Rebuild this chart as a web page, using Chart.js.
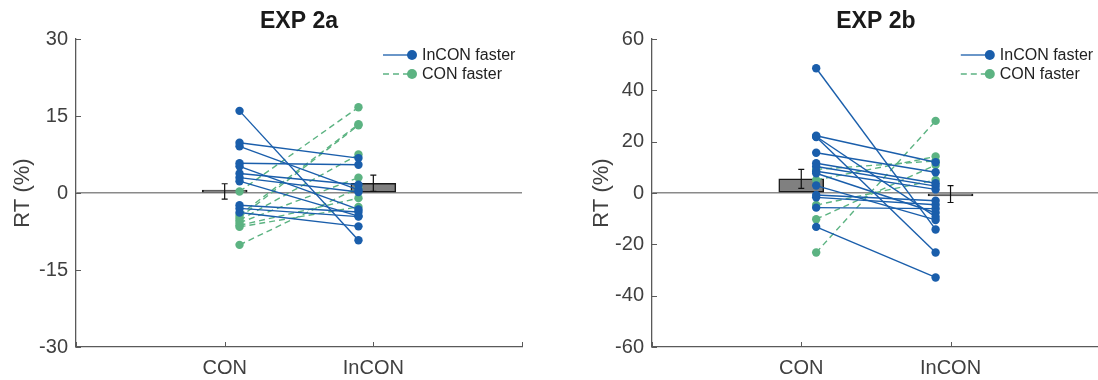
<!DOCTYPE html>
<html>
<head>
<meta charset="utf-8">
<script src="https://cdn.jsdelivr.net/npm/chart.js@4/dist/chart.umd.min.js"></script>
<style>
  body { margin: 0; background: #fff; overflow: hidden; }
  #wrap { position: relative; width: 1098px; height: 380px; overflow: hidden; }
  canvas { position: absolute; top: 0; }
</style>
</head>
<body>
<div id="wrap">
  <canvas id="exp2a" width="560" height="380" style="left:0"></canvas>
  <canvas id="exp2b" width="544" height="380" style="left:560px"></canvas>
</div>
<script>
// categories and tick labels
const categories = ['CON', 'InCON'];
const xTickLabels = ['', 'CON', 'InCON', ''];
const legendLabels = ['InCON faster', 'CON faster'];

// EXP 2a - per subject RT (%)
const a_blueCon   = [16.0, 9.8, 9.1, 5.8, 5.2, 3.8, 3.0, 2.3, -2.4, -3.0, -3.8];
const a_blueIncon = [-9.2, 6.8, 0.6, 5.5, -3.2, 1.6, 0.2, -4.5, -3.7, -4.6, -6.5];
const a_greenCon   = [0.3, -4.3, -4.8, -5.3, -5.8, -6.3, -6.6, -10.1];
const a_greenIncon = [16.7, 13.4, 13.2, 7.5, 3.0, -1.0, -2.7, 1.0];
const a_means = [0.3, 1.9];
const a_sem   = [1.5, 1.6];
const a_yTicks = [-30, -15, 0, 15, 30];

// EXP 2b
const b_blueCon   = [48.6, 22.3, 22.0, 21.8, 15.7, 11.6, 10.3, 8.5, 7.7, 2.9, -0.8, -1.7, -5.7, -13.2];
const b_blueIncon = [-14.2, 12.0, -9.3, -23.2, 8.1, 3.8, 2.7, 1.4, -7.7, -10.5, -3.0, -4.6, -6.1, -32.9];
const b_greenCon   = [-23.2, -10.2, -4.7, 5.1, 9.2];
const b_greenIncon = [28.1, 10.9, 5.1, 14.2, 12.5];
const b_means = [5.5, -0.4];
const b_sem   = [3.7, 3.3];
const b_yTicks = [-60, -40, -20, 0, 20, 40, 60];

const BLUE = '#1a5eab';
const GREEN = '#5cb382';
const FONT = "'Liberation Sans', Arial, Helvetica, sans-serif";
const SHIFT = 0.1; // points sit a little inside the bar positions

// extra drawing: title, inward ticks, error bars, legend
const extras = {
  id: 'extras',
  afterDatasetsDraw(chart) {
    const { ctx, chartArea, scales } = chart;
    const o = chart.options.plugins.extras;
    const x = scales.x, y = scales.y;
    ctx.save();

    // inward ticks
    ctx.strokeStyle = '#5a5a5a';
    ctx.lineWidth = 1;
    y.ticks.forEach(t => {
      const py = Math.round(y.getPixelForValue(t.value)) + 0.5;
      ctx.beginPath(); ctx.moveTo(chartArea.left, py); ctx.lineTo(chartArea.left + 5, py); ctx.stroke();
    });
    x.ticks.forEach(t => {
      const px = Math.round(x.getPixelForValue(t.value)) + 0.5;
      ctx.beginPath(); ctx.moveTo(px, chartArea.bottom); ctx.lineTo(px, chartArea.bottom - 5); ctx.stroke();
    });

    // error bars
    ctx.strokeStyle = '#111';
    ctx.lineWidth = 1.2;
    o.means.forEach((m, i) => {
      const px = x.getPixelForValue(i + 1);
      const y1 = y.getPixelForValue(m - o.sem[i]);
      const y2 = y.getPixelForValue(m + o.sem[i]);
      ctx.beginPath();
      ctx.moveTo(px, y1); ctx.lineTo(px, y2);
      ctx.moveTo(px - 3, y1); ctx.lineTo(px + 3, y1);
      ctx.moveTo(px - 3, y2); ctx.lineTo(px + 3, y2);
      ctx.stroke();
    });

    // title
    ctx.fillStyle = '#1a1a1a';
    ctx.font = 'bold 23px ' + FONT;
    ctx.textAlign = 'center';
    ctx.textBaseline = 'alphabetic';
    ctx.fillText(o.title, (chartArea.left + chartArea.right) / 2, 28);

    // legend
    const lx = chartArea.right - 139;
    [[BLUE, []], [GREEN, [6, 4]]].forEach((s, i) => {
      const ly = chartArea.top + 16 + i * 19;
      ctx.strokeStyle = s[0];
      ctx.lineWidth = 1.3;
      ctx.setLineDash(s[1]);
      ctx.beginPath(); ctx.moveTo(lx, ly); ctx.lineTo(lx + 28, ly); ctx.stroke();
      ctx.setLineDash([]);
      ctx.fillStyle = s[0];
      ctx.beginPath(); ctx.arc(lx + 29, ly, 5, 0, Math.PI * 2); ctx.fill();
      ctx.fillStyle = '#222';
      ctx.font = '16px ' + FONT;
      ctx.textAlign = 'left';
      ctx.textBaseline = 'middle';
      ctx.fillText(legendLabels[i], lx + 39, ly + 1);
    });
    ctx.restore();
  }
};

function pairSets(con, incon, color, dash, order) {
  return con.map((c, i) => ({
    type: 'line',
    data: [{ x: 1 + SHIFT, y: c }, { x: 2 - SHIFT, y: incon[i] }],
    borderColor: color,
    backgroundColor: color,
    borderWidth: 1.4,
    borderDash: dash,
    pointRadius: 4.2,
    pointBorderWidth: 0,
    pointBackgroundColor: color,
    order: order
  }));
}

function makeChart(id, title, blueCon, blueIncon, greenCon, greenIncon, means, sem, yTicks, axisW, padRight, labelPad) {
  const yMax = Math.max(...yTicks);
  const datasets = [
    ...pairSets(blueCon, blueIncon, BLUE, [], 0),
    ...pairSets(greenCon, greenIncon, GREEN, [6, 4], 1),
    {
      type: 'bar',
      data: means.map((m, i) => ({ x: i + 1, y: m })),
      backgroundColor: '#808080',
      borderColor: '#1a1a1a',
      borderWidth: 1.5,
      borderSkipped: false,
      barThickness: 45,
      minBarLength: 3,
      order: 2
    }
  ];
  return new Chart(document.getElementById(id), {
    type: 'line',
    data: { datasets },
    options: {
      responsive: false,
      animation: false,
      events: [],
      layout: { padding: { top: 39, right: padRight, left: 0, bottom: 0 } },
      plugins: {
        legend: { display: false },
        tooltip: { enabled: false },
        extras: { title, means, sem }
      },
      scales: {
        x: {
          type: 'linear', min: 0, max: 3, offset: false,
          afterBuildTicks: s => { s.ticks = [0, 1, 2, 3].map(v => ({ value: v })); },
          afterFit: s => { s.height = 33; },
          ticks: {
            callback: v => xTickLabels[v],
            color: '#404040', padding: 1,
            font: { family: FONT, size: 20 },
            maxRotation: 0, autoSkip: false
          },
          grid: { display: false },
          border: { display: true, color: '#5a5a5a', width: 1.3 }
        },
        y: {
          min: -yMax, max: yMax,
          afterBuildTicks: s => { s.ticks = yTicks.map(v => ({ value: v })); },
          afterFit: s => { s.width = axisW; },
          ticks: {
            color: '#404040', padding: 8,
            font: { family: FONT, size: 20 }
          },
          grid: {
            drawTicks: false,
            color: c => (c.tick && c.tick.value === 0) ? '#8a8a8a' : 'rgba(0,0,0,0)',
            lineWidth: 1.6
          },
          border: { display: true, color: '#5a5a5a', width: 1.3 },
          title: {
            display: true, text: 'RT (%)', color: '#404040',
            font: { family: FONT, size: 22 },
            padding: { top: labelPad, bottom: 0 }
          }
        }
      }
    },
    plugins: [extras]
  });
}

makeChart('exp2a', 'EXP 2a', a_blueCon, a_blueIncon, a_greenCon, a_greenIncon, a_means, a_sem, a_yTicks, 76, 38, 10);
makeChart('exp2b', 'EXP 2b', b_blueCon, b_blueIncon, b_greenCon, b_greenIncon, b_means, b_sem, b_yTicks, 92, 1, 29);
</script>
</body>
</html>
